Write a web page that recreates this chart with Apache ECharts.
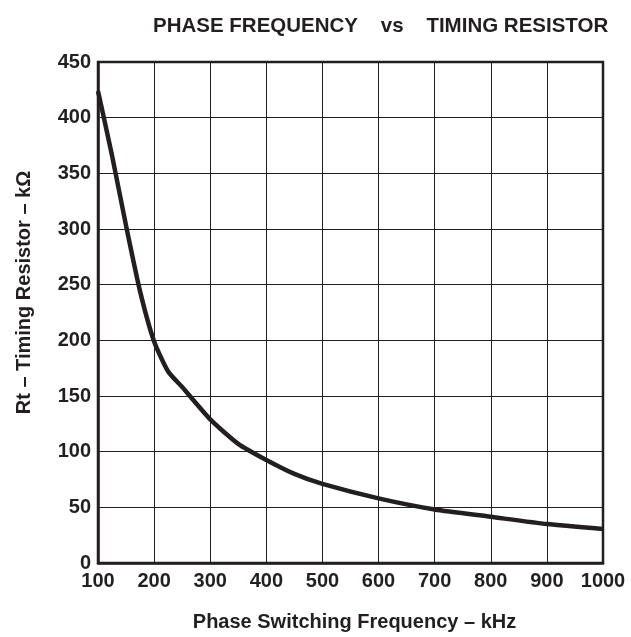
<!DOCTYPE html>
<html><head><meta charset="utf-8">
<script src="https://cdn.jsdelivr.net/npm/echarts@6/dist/echarts.min.js"></script>
<style>html,body{margin:0;padding:0;background:#fff}#c{width:631px;height:637px}</style>
</head><body><div id="c"></div>
<script>
const frequency = [100,125,150,175,200,225,250,300,350,400,450,500,600,700,800,900,1000];
const resistance = [424,366,303,244,199,172,158,129,107,92.5,80,71,58,48,41.5,35,30.5];
const xTicks = [100,200,300,400,500,600,700,800,900,1000];
const yTicks = [0,50,100,150,200,250,300,350,400,450];

const chart = echarts.init(document.getElementById('c'));
const ff = 'Liberation Sans, Arial, Helvetica, sans-serif';
chart.setOption({
  animation:false,
  title:{text:'PHASE FREQUENCY    vs    TIMING RESISTOR', left:148, top:11,
    textStyle:{fontFamily:ff,fontWeight:'bold',fontSize:20.5,color:'#231f20'}},
  grid:{left:98,top:62,right:28,bottom:70,show:true,borderColor:'#231f20',borderWidth:2.5,containLabel:false},
  xAxis:{type:'value',min:xTicks[0],max:xTicks[xTicks.length-1],interval:100,
    name:'Phase Switching Frequency – kHz',nameLocation:'middle',nameGap:49,
    nameTextStyle:{fontFamily:ff,fontWeight:'bold',fontSize:20,color:'#231f20',padding:[0,0,0,8]},
    axisLine:{show:true,lineStyle:{color:'#231f20',width:2.5}},axisTick:{show:false},
    axisLabel:{fontFamily:ff,fontWeight:'bold',fontSize:20,color:'#231f20',margin:8,formatter:v=>String(v)},
    splitLine:{show:true,lineStyle:{color:'#231f20',width:1}}},
  yAxis:{type:'value',min:yTicks[0],max:yTicks[yTicks.length-1],interval:50,
    name:'Rt – Timing Resistor – kΩ',nameLocation:'middle',nameGap:64,nameRotate:90,
    nameTextStyle:{fontFamily:ff,fontWeight:'bold',fontSize:20,color:'#231f20',padding:[0,0,0,40]},
    axisLine:{show:true,lineStyle:{color:'#231f20',width:2.5}},axisTick:{show:false},
    axisLabel:{fontFamily:ff,fontWeight:'bold',fontSize:20,color:'#231f20',margin:7,formatter:v=>String(v)},
    splitLine:{show:true,lineStyle:{color:'#231f20',width:1}}},
  series:[{type:'line',data:frequency.map((f,i)=>[f,resistance[i]]),showSymbol:false,
    smooth:0.2,lineStyle:{color:'#231f20',width:4.5}}]
});
</script></body></html>
